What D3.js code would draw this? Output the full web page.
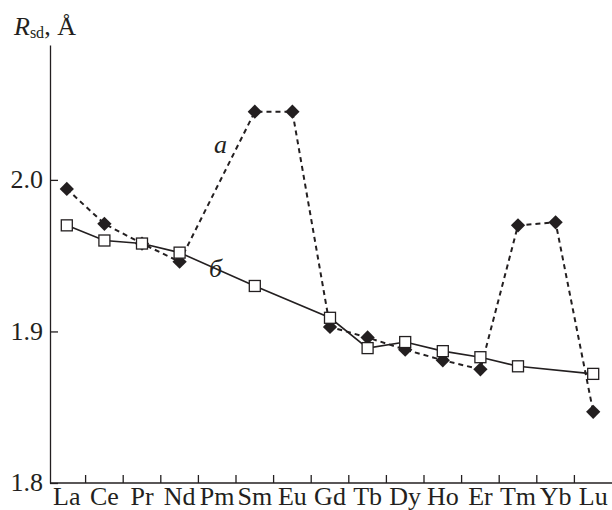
<!DOCTYPE html>
<html>
<head>
<meta charset="utf-8">
<script src="https://cdn.jsdelivr.net/npm/d3@7"></script>
<style>
  body { margin: 0; background: #fff; }
  svg { display: block; }
  text { font-family: "Liberation Serif", "Times New Roman", Times, serif; }
</style>
</head>
<body>
<svg id="chart" width="612" height="510"></svg>
<script>
// categorias (lantanideos) e valores
var categorias = ["La","Ce","Pr","Nd","Pm","Sm","Eu","Gd","Tb","Dy","Ho","Er","Tm","Yb","Lu"];
var serieA = [1.994,1.971,1.958,1.946,null,2.045,2.045,1.903,1.896,1.888,1.881,1.875,1.970,1.972,1.847];
var serieB = [1.970,1.960,1.958,1.952,null,1.930,null,1.909,1.889,1.893,1.887,1.883,1.877,null,1.872];
var ticksY = [1.8, 1.9, 2.0];

var cor = "#231f20";
var fonte = "Liberation Serif, Times New Roman, serif";

var svg = d3.select("#chart");

// escalas
var xScale = d3.scaleBand().domain(categorias).range([48, 612]).padding(0);
var yScale = d3.scaleLinear().domain([1.8, 2.089]).range([483, 45]);

function cx(d) { return xScale(d.cat) + xScale.bandwidth() / 2; }

function pontos(serie) {
  return categorias.map(function(c, i) { return {cat: c, v: serie[i]}; })
    .filter(function(d) { return d.v !== null; });
}
var dadosA = pontos(serieA);
var dadosB = pontos(serieB);

//------------------------------------------------ eixos
// eixo Y
var yAxis = d3.axisLeft(yScale).tickValues(ticksY).tickSize(-8).tickSizeOuter(0)
  .tickPadding(7).tickFormat(d3.format(".1f"));
var gy = svg.append("g").attr("transform", "translate(50,0)").call(yAxis);
gy.attr("font-family", null).attr("font-size", null);
gy.select(".domain").attr("stroke", cor).attr("stroke-width", 1.3);
gy.selectAll(".tick line").attr("stroke", cor).attr("stroke-width", 1.3);
gy.selectAll(".tick text").style("font-family", fonte).style("font-size", "26px")
  .attr("fill", cor).attr("dy", "0.3em");

// eixo X: rotulos no centro de cada categoria
var xAxis = d3.axisBottom(xScale).tickSize(0).tickSizeOuter(0).tickPadding(4);
var gx = svg.append("g").attr("transform", "translate(0,483)").call(xAxis);
gx.attr("font-family", null).attr("font-size", null);
gx.select(".domain").remove();
gx.selectAll(".tick text").style("font-family", fonte).style("font-size", "26px")
  .attr("fill", cor).attr("dy", "0.71em");

// linha do eixo X
svg.append("line").attr("x1", 50).attr("x2", 612)
  .attr("y1", yScale(1.8)).attr("y2", yScale(1.8))
  .attr("stroke", cor).attr("stroke-width", 1.3);

// marcas do eixo X nas fronteiras entre categorias
svg.append("g").selectAll("line")
  .data(categorias.slice(0, categorias.length - 1))
  .enter()
  .append("line")
  .attr("x1", function(c) { return xScale(c) + xScale.step(); })
  .attr("x2", function(c) { return xScale(c) + xScale.step(); })
  .attr("y1", yScale(1.8))
  .attr("y2", yScale(1.8) - 8)
  .attr("stroke", cor).attr("stroke-width", 1.3);

//------------------------------------------------ linhas
var linha = d3.line().x(cx).y(function(d) { return yScale(d.v); });

svg.append("path").datum(dadosA).attr("d", linha)
  .attr("fill", "none").attr("stroke", cor).attr("stroke-width", 2)
  .attr("stroke-dasharray", "5,4");

svg.append("path").datum(dadosB).attr("d", linha)
  .attr("fill", "none").attr("stroke", cor).attr("stroke-width", 1.6);

//------------------------------------------------ marcadores
var losango = d3.symbol().type(d3.symbolDiamond2).size(130);
svg.append("g").selectAll("path")
  .data(dadosA)
  .enter()
  .append("path")
  .attr("d", losango)
  .attr("transform", function(d) { return "translate(" + cx(d) + "," + yScale(d.v) + ")"; })
  .attr("fill", cor);

svg.append("g").selectAll("rect")
  .data(dadosB)
  .enter()
  .append("rect")
  .attr("x", function(d) { return cx(d) - 5.5; })
  .attr("y", function(d) { return yScale(d.v) - 5.5; })
  .attr("width", 11).attr("height", 11)
  .attr("fill", "#fff").attr("stroke", cor).attr("stroke-width", 1.3);

//------------------------------------------------ rotulos das series
svg.append("text").attr("x", 214).attr("y", 153).text("a")
  .style("font-family", fonte).attr("font-style", "italic").attr("font-size", "26px").attr("fill", cor);
svg.append("text").attr("x", 209).attr("y", 277).text("б")
  .style("font-family", fonte).attr("font-style", "italic").attr("font-size", "26px").attr("fill", cor);

// titulo do eixo Y
var titulo = svg.append("text").attr("x", 14).attr("y", 35)
  .style("font-family", fonte).attr("font-size", "26px").attr("fill", cor);
titulo.append("tspan").attr("font-style", "italic").text("R");
titulo.append("tspan").attr("font-size", "16px").attr("dy", 3).text("sd");
titulo.append("tspan").attr("dy", -3).text(", Å");
</script>
</body>
</html>
